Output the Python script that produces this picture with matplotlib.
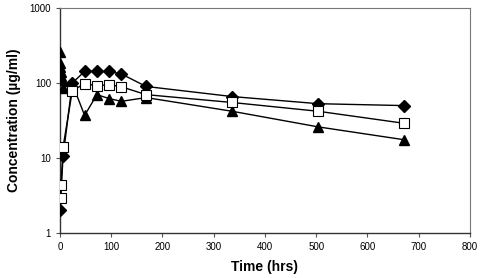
import matplotlib
matplotlib.use("Agg")
import matplotlib.pyplot as plt
from matplotlib.ticker import FixedLocator, NullLocator, FixedFormatter

plt.rcParams['font.family'] = ['Liberation Sans', 'DejaVu Sans']

# Diamonds (filled)
t_d = [0, 6, 24, 48, 72, 96, 120, 168, 336, 504, 672]
c_d = [2.0, 10.5, 100, 143, 143, 143, 132, 90, 66, 53, 50]

# Squares (open)
t_s = [1, 2, 6, 24, 48, 72, 96, 120, 168, 336, 504, 672]
c_s = [2.9, 4.3, 14, 79, 98, 92, 95, 89, 70, 55, 42, 29]

# Triangles (filled)
t_t = [0.083, 0.25, 0.5, 1, 2, 4, 6, 24, 48, 72, 96, 120, 168, 336, 504, 672]
c_t = [256, 183, 166, 141, 124, 110, 86, 98, 37, 70, 62, 57, 64, 42, 26, 17.5]

x_ticks = [0, 100, 200, 300, 400, 500, 600, 700, 800]
y_ticks = [1, 10, 100, 1000]
y_labels = ['1', '10', '100', '1000']

fig = plt.figure(figsize=(4.8, 2.78), dpi=100)
ax = fig.add_axes([0.125, 0.162, 0.854, 0.809])

ax.plot(t_t, c_t, color='black', lw=1.0, marker='^', markersize=7,
        markerfacecolor='black', markeredgecolor='black', zorder=3)
ax.plot(t_d, c_d, color='black', lw=1.0, marker='D', markersize=6,
        markerfacecolor='black', markeredgecolor='black', zorder=4)
ax.plot(t_s, c_s, color='black', lw=1.0, marker='s', markersize=6.5,
        markerfacecolor='white', markeredgecolor='black', markeredgewidth=0.8, zorder=5)

ax.set_yscale('log')
ax.set_xlim(0, 800)
ax.set_ylim(1, 1000)
ax.xaxis.set_major_locator(FixedLocator(x_ticks))
ax.yaxis.set_major_locator(FixedLocator(y_ticks))
ax.yaxis.set_major_formatter(FixedFormatter(y_labels))
ax.yaxis.set_minor_locator(NullLocator())
ax.tick_params(axis='both', which='major', labelsize=7, length=3, width=0.8,
               direction='out', color='#555555')

for s in ['left', 'bottom']:
    ax.spines[s].set_color('#333333')
    ax.spines[s].set_linewidth(1.0)
for s in ['top', 'right']:
    ax.spines[s].set_color('#777777')
    ax.spines[s].set_linewidth(0.8)

ax.set_xlabel('Time (hrs)', fontsize=10, fontweight='bold', labelpad=6)
ax.set_ylabel('Concentration (µg/ml)', fontsize=10, fontweight='bold', labelpad=6)

fig.savefig('out.png', dpi=100)
